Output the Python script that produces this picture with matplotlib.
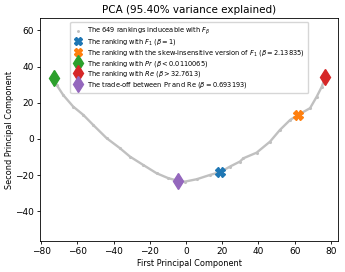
import matplotlib
matplotlib.use('Agg')
import matplotlib.pyplot as plt

# points along the curve of rankings
curve_x = [-72.9, -71.4, -67.8, -62.3, -56.7, -51.2, -43.8, -36.5, -30.9, -23.6, -16.2,
           -9.8, -4.2, -0.5, 5.9, 13.3, 18.8, 24.3, 29.8, 31.7, 39.0, 46.4, 51.9, 57.5,
           62.0, 68.5, 72.2, 75.0, 76.8]
curve_y = [33.5, 29.8, 24.3, 17.9, 13.3, 7.7, 0.4, -5.1, -9.8, -14.4, -19.0,
           -21.7, -23.2, -23.6, -22.3, -19.9, -18.4, -15.3, -12.5, -10.7, -7.6, -1.5, 5.0, 10.5,
           13.3, 17.0, 23.4, 28.9, 34.0]

labels = [r'The ranking with $F_1$ ($\beta = 1$)',
          r'The ranking with the skew-insensitive version of $F_1$ ($\beta = 2.13835$)',
          r'The ranking with $Pr$ ($\beta < 0.0110065$)',
          r'The ranking with $Re$ ($\beta > 32.7613$)',
          r'The trade-off between Pr and Re ($\beta = 0.693193$)']
pts_x = [18.8, 62.0, -72.9, 76.8, -4.3]
pts_y = [-18.4, 13.3, 33.5, 34.0, -23.0]
markers = ['X', 'X', 'd', 'd', 'd']
colors = ['tab:blue', 'tab:orange', 'tab:green', 'tab:red', 'tab:purple']

fig, ax = plt.subplots(figsize=(3.45, 2.72), dpi=100)
fig.subplots_adjust(left=0.117, right=0.979, top=0.932, bottom=0.115)

ax.plot(curve_x, curve_y, '-', color='#c0c0c0', lw=1.7, zorder=1)
ax.scatter(curve_x, curve_y, s=1.5, color='#c0c0c0', zorder=1,
           label=r'The 649 rankings induceable with $F_\beta$')
for px, py, m, c, l in zip(pts_x, pts_y, markers, colors, labels):
    ms = 6.8 if m == 'X' else 8.5
    ax.plot(px, py, m, color=c, ms=ms, ls='none', label=l, zorder=3)

ax.set_xlim(-80.4, 83.8)
ax.set_ylim(-56.3, 66.6)
ax.set_xticks([-80, -60, -40, -20, 0, 20, 40, 60, 80])
ax.set_yticks([-40, -20, 0, 20, 40, 60])
ax.tick_params(labelsize=6.5, length=2.5, width=0.6, pad=2)
for s in ax.spines.values():
    s.set_linewidth(0.6)

ax.set_title('PCA (95.40% variance explained)', fontsize=7.5, pad=4)
ax.set_xlabel('First Principal Component', fontsize=5.9, labelpad=2)
ax.set_ylabel('Second Principal Component', fontsize=5.9, labelpad=1)
ax.legend(loc='upper center', fontsize=4.8, handletextpad=0.8, labelspacing=0.1,
          handlelength=1.2, borderpad=0.5, markerscale=0.9, framealpha=0.8)

fig.savefig('out.png', dpi=100)
